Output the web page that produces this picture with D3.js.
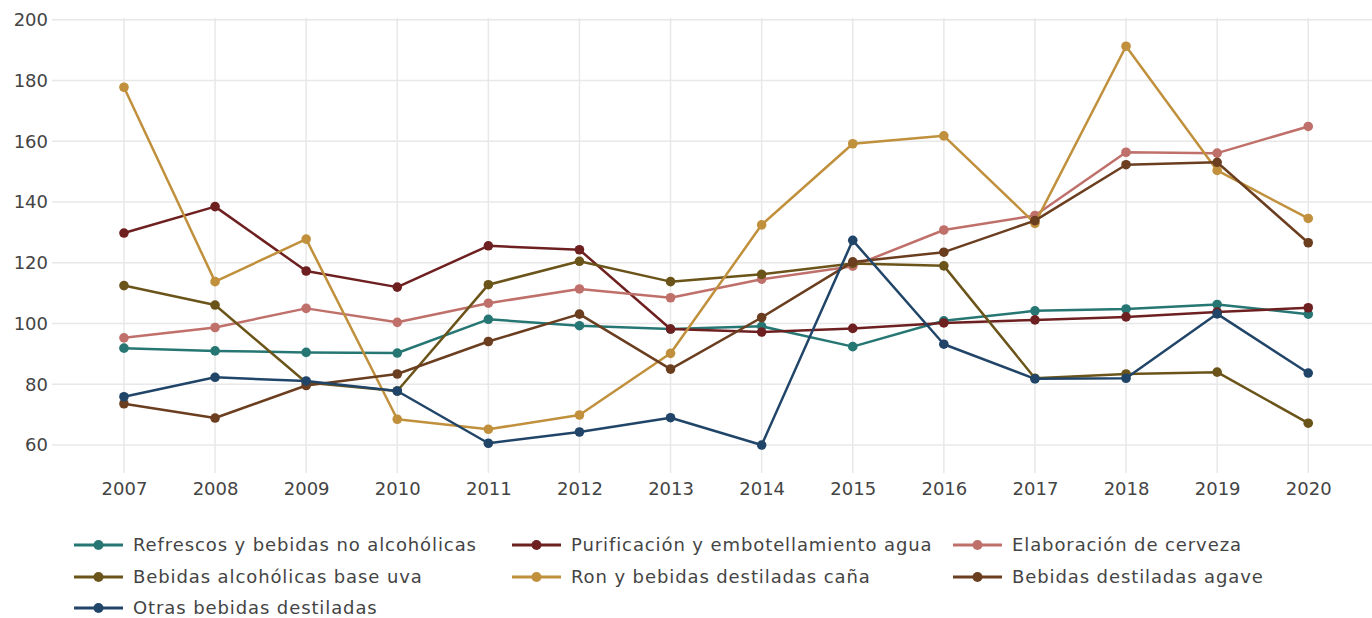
<!DOCTYPE html>
<html>
<head>
<meta charset="utf-8">
<script src="https://cdn.jsdelivr.net/npm/d3@7"></script>
<style>
  body { margin: 0; background: #ffffff; }
  #chartDiv { width: 1372px; height: 618px; }
  text { font-family: "DejaVu Sans", Verdana, sans-serif; fill: #444444; }
</style>
</head>
<body>
<div id="chartDiv"></div>
<script>
//----------------------------------------------------------------------------------------------------
var years = [2007, 2008, 2009, 2010, 2011, 2012, 2013, 2014, 2015, 2016, 2017, 2018, 2019, 2020];
var yTicks = [60, 80, 100, 120, 140, 160, 180, 200];

var seriesNames = ["Refrescos y bebidas no alcohólicas",
                   "Purificación y embotellamiento agua",
                   "Elaboración de cerveza",
                   "Bebidas alcohólicas base uva",
                   "Ron y bebidas destiladas caña",
                   "Bebidas destiladas agave",
                   "Otras bebidas destiladas"];

var seriesColors = ["#267773", "#6e2020", "#c0706a", "#6b5419", "#c0903c", "#6b3e20", "#214568"];

var refrescos    = [91.9, 91.0, 90.5, 90.3, 101.4, 99.3, 98.2, 99.1, 92.4, 100.9, 104.2, 104.8, 106.3, 103.1];
var purificacion = [129.8, 138.5, 117.3, 112.0, 125.6, 124.3, 98.2, 97.2, 98.4, 100.2, 101.2, 102.2, 103.8, 105.2];
var cerveza      = [95.3, 98.7, 105.0, 100.4, 106.7, 111.4, 108.5, 114.6, 118.9, 130.8, 135.6, 156.4, 156.1, 164.9];
var baseUva      = [112.5, 106.1, 80.6, 77.8, 112.8, 120.5, 113.8, 116.2, 119.8, 119.0, 82.0, 83.4, 84.0, 67.2];
var ronCana      = [177.8, 113.8, 127.8, 68.5, 65.2, 69.9, 90.2, 132.5, 159.2, 161.8, 133.0, 191.3, 150.4, 134.6];
var agave        = [73.6, 68.9, 79.6, 83.4, 94.1, 103.1, 85.0, 102.0, 120.3, 123.5, 133.9, 152.3, 153.1, 126.6];
var otras        = [75.9, 82.3, 81.1, 77.8, 60.6, 64.3, 69.0, 60.0, 127.4, 93.2, 81.8, 82.0, 103.2, 83.7];

var seriesValues = [refrescos, purificacion, cerveza, baseUva, ronCana, agave, otras];

//----------------------------------------------------------------------------------------------------
function drawChart()
{
   var width = 1372;
   var height = 618;

   var plotLeft = 52, plotRight = 1372, plotTop = 18, plotBottom = 473;

   var xScale = d3.scaleLinear()
                  .domain([2006.21, 2020.7])
                  .range([plotLeft, plotRight]);

   var yScale = d3.scaleLinear()
                  .domain([50.8, 200.6])
                  .range([plotBottom, plotTop]);

   var svg = d3.select("#chartDiv")
               .append("svg")
               .attr("width", width)
               .attr("height", height);

      // grid lines
   svg.append("g")
      .selectAll("line")
      .data(years)
      .enter()
      .append("line")
      .attr("x1", function(d){ return xScale(d); })
      .attr("x2", function(d){ return xScale(d); })
      .attr("y1", plotTop)
      .attr("y2", plotBottom)
      .style("stroke", "#e8e8e8")
      .style("stroke-width", 1.5);

   svg.append("g")
      .selectAll("line")
      .data(yTicks)
      .enter()
      .append("line")
      .attr("x1", plotLeft)
      .attr("x2", plotRight)
      .attr("y1", function(d){ return yScale(d); })
      .attr("y2", function(d){ return yScale(d); })
      .style("stroke", "#e8e8e8")
      .style("stroke-width", 1.5);

      // axes (labels only)
   var xAxis = d3.axisBottom(xScale)
                 .tickValues(years)
                 .tickFormat(d3.format("d"))
                 .tickSize(0)
                 .tickPadding(10);

   var yAxis = d3.axisLeft(yScale)
                 .tickValues(yTicks)
                 .tickSize(0)
                 .tickPadding(4);

   var gx = svg.append("g")
      .attr("transform", "translate(0," + plotBottom + ")")
      .call(xAxis);
   gx.select(".domain").remove();
   gx.selectAll("text").style("font-size", "18px").attr("dy", "0.65em");

   var gy = svg.append("g")
      .attr("transform", "translate(" + plotLeft + ",0)")
      .call(yAxis);
   gy.select(".domain").remove();
   gy.selectAll("text").style("font-size", "18px");

      // lines and points
   var line = d3.line()
                .x(function(d, i){ return xScale(years[i]); })
                .y(function(d){ return yScale(d); });

   for(var s=0; s < seriesValues.length; s++){
      var g = svg.append("g");
      g.append("path")
       .datum(seriesValues[s])
       .attr("d", line)
       .style("fill", "none")
       .style("stroke", seriesColors[s])
       .style("stroke-width", 2.5)
       .style("stroke-linejoin", "round");
      g.selectAll("circle")
       .data(seriesValues[s])
       .enter()
       .append("circle")
       .attr("cx", function(d, i){ return xScale(years[i]); })
       .attr("cy", function(d){ return yScale(d); })
       .attr("r", 4.8)
       .style("fill", seriesColors[s]);
      } // for s

      // legend, three columns
   var colX = [74, 512, 953];
   var rowY = [545, 577, 608];

   var legend = svg.append("g");
   for(var k=0; k < seriesNames.length; k++){
      var lx = colX[k % 3];
      var ly = rowY[Math.floor(k / 3)];
      legend.append("line")
            .attr("x1", lx).attr("x2", lx + 49)
            .attr("y1", ly).attr("y2", ly)
            .style("stroke", seriesColors[k])
            .style("stroke-width", 3);
      legend.append("circle")
            .attr("cx", lx + 24.5).attr("cy", ly)
            .attr("r", 5)
            .style("fill", seriesColors[k]);
      legend.append("text")
            .attr("x", lx + 59).attr("y", ly)
            .attr("dy", "0.35em")
            .style("font-size", "18px")
            .style("letter-spacing", "0.9px")
            .text(seriesNames[k]);
      } // for k

} // drawChart
//----------------------------------------------------------------------------------------------------
drawChart();
</script>
</body>
</html>
